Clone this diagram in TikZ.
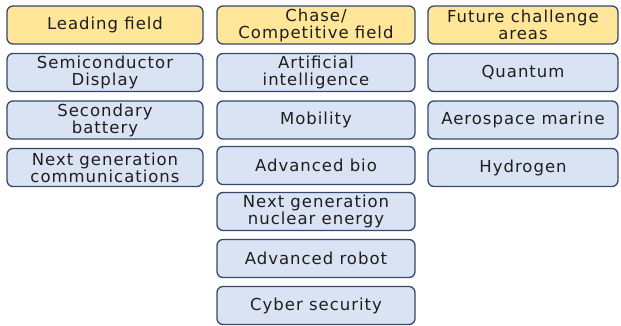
\documentclass[tikz,border=0pt]{standalone}
\usepackage{fontspec}
\setmainfont{DejaVu Sans}[LetterSpace=6]
\definecolor{frameblue}{HTML}{34496B}
\definecolor{headgold}{HTML}{FFE699}
\definecolor{itemblue}{HTML}{DAE3F3}
\definecolor{inkgray}{HTML}{1E1E1E}
\tikzset{
  field/.style={draw=frameblue, line width=1.3pt, rounded corners=6pt,
    minimum height=38pt, inner sep=1pt, align=center, text=inkgray,
    font=\fontsize{16.5}{17}\selectfont},
  headbox/.style={field, fill=headgold},
  itembox/.style={field, fill=itemblue},
}
\begin{document}
\begin{tikzpicture}[x=1pt, y=-1pt]
  \useasboundingbox (0,0) rectangle (621,325);
  % leading field
  \begin{scope}[every node/.append style={minimum width=196pt}]
    \node[headbox] (lead)  at (105,25)   {Leading field};
    \node[itembox] (semi)  at (105,72.5) {Semiconductor\\Display};
    \node[itembox] (batt)  at (105,120)  {Secondary\\battery};
    \node[itembox] (comm)  at (105,167.5) {Next generation\\communications};
  \end{scope}
  % chase / competitive field
  \begin{scope}[every node/.append style={minimum width=198pt}]
    \node[headbox] (chase) at (316,25)    {Chase/\\Competitive field};
    \node[itembox] (ai)    at (316,72.5)  {Artificial\\intelligence};
    \node[itembox] (mob)   at (316,120)   {Mobility};
    \node[itembox] (bio)   at (316,165.5) {Advanced bio};
    \node[itembox] (nucl)  at (316,211.5) {Next generation\\nuclear energy};
    \node[itembox] (robot) at (316,258.5) {Advanced robot};
    \node[itembox] (cyber) at (316,305.5) {Cyber security};
  \end{scope}
  % future challenge areas
  \begin{scope}[every node/.append style={minimum width=190pt}]
    \node[headbox] (future) at (523,25)    {Future challenge\\areas};
    \node[itembox] (quant)  at (523,72.5)  {Quantum};
    \node[itembox] (aero)   at (523,120)   {Aerospace marine};
    \node[itembox] (hydro)  at (523,167.5) {Hydrogen};
  \end{scope}
\end{tikzpicture}
\end{document}
